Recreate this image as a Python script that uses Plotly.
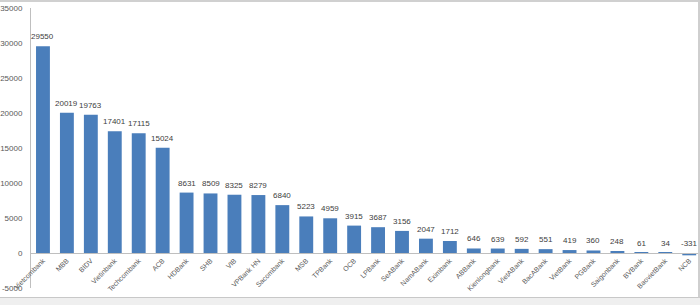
import plotly.graph_objects as go

banks = ["Vietcombank", "MBB", "BIDV", "Vietinbank", "Techcombank", "ACB", "HDBank", "SHB",
         "VIB", "VPBank HN", "Sacombank", "MSB", "TPBank", "OCB", "LPBank", "SeABank",
         "NamABank", "Eximbank", "ABBank", "Kienlongbank", "VietABank", "BacABank", "VietBank",
         "PGBank", "Saigonbank", "BVBank", "BaovietBank", "NCB"]
values = [29550, 20019, 19763, 17401, 17115, 15024, 8631, 8509,
          8325, 8279, 6840, 5223, 4959, 3915, 3687, 3156,
          2047, 1712, 646, 639, 592, 551, 419,
          360, 248, 61, 34, -331]
y_ticks = [-5000, 0, 5000, 10000, 15000, 20000, 25000, 30000, 35000]

W, H = 700, 305
top, bottom_px = 8, 288
ymin, ymax = -5000, 35000
zero_pos = (0 - ymin) / (ymax - ymin)

fig = go.Figure()
fig.add_trace(go.Bar(
    x=banks, y=values,
    marker=dict(color="#4A7EBB", line=dict(width=0)),
    cliponaxis=False,
    width=0.58,
))

annotations = []
for b, v in zip(banks, values):
    y_at = max(v, 0)
    annotations.append(dict(
        x=b, y=y_at, xref="x", yref="y", text=str(v), showarrow=False,
        yanchor="bottom", yshift=3,
        font=dict(size=8, color="#404040", family="Liberation Sans"),
    ))

fig.update_layout(
    width=W, height=H,
    margin=dict(l=27, r=0, t=top, b=H - bottom_px),
    paper_bgcolor="white", plot_bgcolor="white",
    showlegend=False,
    annotations=annotations,
    font=dict(family="Liberation Sans", size=8, color="#595959"),
    xaxis=dict(
        type="category",
        range=[-0.5, 27.45],
        anchor="free", position=zero_pos,
        showline=True, linecolor="#BFBFBF", linewidth=1,
        showgrid=False, ticks="",
        tickangle=-45,
        tickfont=dict(size=7, color="#595959"),
    ),
    yaxis=dict(
        range=[ymin, ymax],
        tickvals=y_ticks,
        ticktext=[str(v) for v in y_ticks],
        showline=True, linecolor="#BFBFBF", linewidth=1,
        showgrid=False, zeroline=False, ticks="",
        tickfont=dict(size=8, color="#595959"),
        ticklabelstandoff=6,
    ),
    shapes=[
        dict(type="rect", xref="paper", yref="paper", x0=-0.05, x1=1.02,
             y0=1 + 6 / 280, y1=1 + 8.5 / 280, fillcolor="#D0D0D0", line=dict(width=0), layer="above"),
        dict(type="rect", xref="paper", yref="paper", x0=-0.05, x1=1.02,
             y0=-17.5 / 280, y1=-9.5 / 280, fillcolor="#EFEFEF", line=dict(color="#C8C8C8", width=1), layer="above"),
        dict(type="line", xref="paper", yref="paper", x0=0.9985, x1=0.9985,
             y0=-9.5 / 280, y1=1.03, line=dict(color="#CFCFCF", width=2)),
    ],
)

fig.write_html("out.html")
